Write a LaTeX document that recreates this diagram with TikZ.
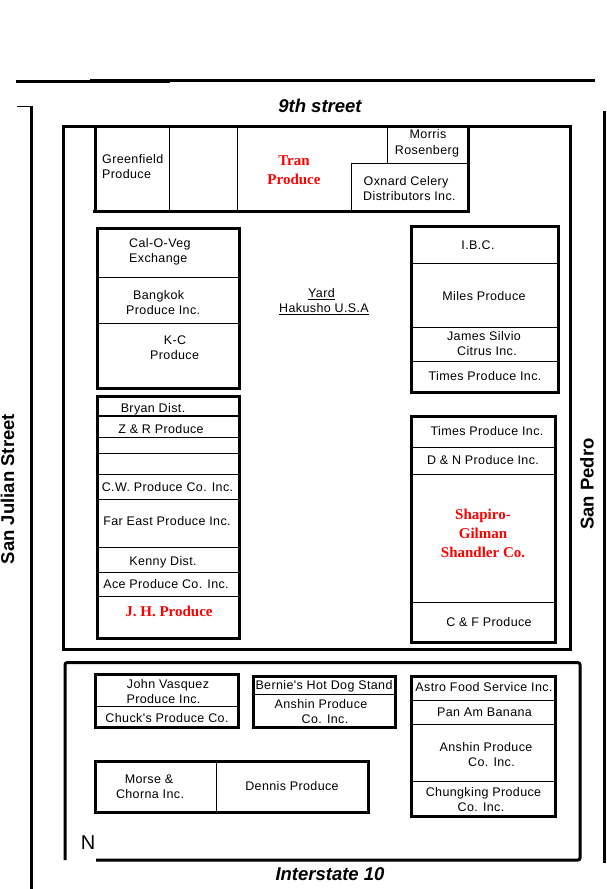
\documentclass[tikz,border=0pt]{standalone}
\usepackage{fontspec}
\setmainfont{Liberation Sans}
\newfontfamily\labfont[LetterSpace=3]{Liberation Sans}
\newfontfamily\redfont{Liberation Serif}
\tikzset{
  wall/.style={line width=3pt,line cap=butt,black},
  thin/.style={line width=1.1pt,black},
  lab/.style={inner sep=0pt,anchor=base,font=\labfont\fontsize{12.5}{14}\selectfont,text=black},
  labl/.style={lab,anchor=base west},
  redlab/.style={inner sep=0pt,anchor=base,font=\redfont\fontsize{15}{17}\selectfont\bfseries,text=red},
  road/.style={inner sep=0pt,anchor=base,font=\fontsize{18.5}{20}\selectfont\bfseries},
  roadit/.style={road,font=\fontsize{18.5}{20}\selectfont\bfseries\itshape},
}
\begin{document}
\begin{tikzpicture}[x=1pt,y=-1pt]
\useasboundingbox (0,0) rectangle (606,889);
% streets
\draw[wall] (16,81.5) -- (90,81.5);
\draw[line width=3.7pt] (90,80.9) -- (170,80.9);
\draw[wall] (170,80.5) -- (595,80.5);
\draw[line width=1.2pt] (17,106.5) -- (32,106.5);
\draw[wall] (31.5,106) -- (31.5,889);
\draw[wall] (604.7,111) -- (604.7,863);
% outer blocks
\draw[wall] (63.5,126.5) rectangle (570,649);
\draw[wall,rounded corners=2pt] (65,860) -- (65,662.7) -- (580,662.7) -- (580,860) -- (96,860);
% top row
\draw[wall] (95.5,126.5) -- (95.5,211) (93,211) -- (468,211) -- (468,126.5);
\draw[thin] (169.5,127) -- (169.5,210) (237.5,127) -- (237.5,210);
\draw[thin] (387.5,127) -- (387.5,164) (351.7,210) -- (351.7,163.5) -- (467,163.5);
% Cal-O-Veg block
\draw[wall] (97.5,228.7) rectangle (239.5,388);
\draw[thin] (96,277.3) -- (239,277.3) (97,323.3) -- (239,323.3);
% I.B.C. block
\draw[wall] (411.3,226.7) rectangle (558,392.3);
\draw[thin] (411,263.3) -- (557,263.3) (411,327.3) -- (557,327.3) (411,361.7) -- (557,361.7);
% Bryan block
\draw[wall] (97.5,396.7) rectangle (239.5,638.3);
\foreach \yy in {416,437.3,453.3,474.3,499.3,547.3,572.3,596.3}
  \draw[thin] (97,\yy) -- (239,\yy);
% Times / Shapiro block
\draw[wall] (411.3,416) rectangle (555.3,642.7);
\foreach \yy in {447.3,474.3,602.3}
  \draw[thin] (411,\yy) -- (555,\yy);
% John Vasquez block
\draw[wall] (95.3,674.3) rectangle (238,727.7);
\draw[thin] (95,706.7) -- (238,706.7);
% Bernie block
\draw[wall] (253.3,676.7) rectangle (395,727.7);
\draw[thin] (253,694.3) -- (395,694.3);
% Astro block
\draw[wall] (411.3,676.7) rectangle (555.3,816.7);
\foreach \yy in {700.3,724.3,781.3}
  \draw[thin] (411,\yy) -- (555,\yy);
% Morse block
\draw[wall] (95.3,761.7) rectangle (368.7,812.7);
\draw[thin] (216.3,762) -- (216.3,812);
% street names
\node[roadit] (ninth) at (320,112) {9th street};
\node[roadit] (i10) at (330,880.5) {Interstate 10};
\node[road,rotate=90] (julian) at (14,489) {San Julian Street};
\node[road,rotate=90] (pedro) at (593.5,484) {San Pedro};
\node[inner sep=0pt,anchor=base,font=\fontsize{20}{22}\selectfont] (north) at (88,849) {N};
% labels
\node[labl] (t1) at (102,163.5) {Greenfield};
\node[labl] (t2) at (102,178.5) {Produce};
\node[redlab] (t3) at (294,165) {Tran};
\node[redlab] (t4) at (294,184) {Produce};
\node[lab] (t5) at (428,138.5) {Morris};
\node[lab] (t6) at (427,154) {Rosenberg};
\node[labl] (t7) at (363.5,185.5) {Oxnard Celery};
\node[labl] (t8) at (363,200.5) {Distributors Inc.};
\node[labl] (t9) at (129,247) {Cal-O-Veg};
\node[labl] (t10) at (129,262) {Exchange};
\node[labl] (t11) at (133,299) {Bangkok};
\node[labl] (t12) at (126,314) {Produce Inc.};
\node[lab] (t13) at (175,344.5) {K-C};
\node[labl] (t14) at (150,359.5) {Produce};
\node[lab] (t15) at (321.5,297.5) {\underline{Yard}};
\node[lab] (t16) at (324,312.5) {\underline{Hakusho U.S.A}};
\node[lab] (t17) at (478,249.5) {I.B.C.};
\node[lab] (t18) at (484,300.5) {Miles Produce};
\node[lab] (t19) at (484,340.5) {James Silvio};
\node[lab] (t20) at (487,355.5) {Citrus Inc.};
\node[lab] (t21) at (485,380.5) {Times Produce Inc.};
\node[lab] (t22) at (153,412.5) {Bryan Dist.};
\node[lab] (t23) at (161,433.5) {Z \& R Produce};
\node[lab] (t24) at (167.5,491.5) {C.W. Produce Co. Inc.};
\node[lab] (t25) at (167,525.5) {Far East Produce Inc.};
\node[lab] (t26) at (163,565.5) {Kenny Dist.};
\node[lab] (t27) at (166,588.5) {Ace Produce Co. Inc.};
\node[redlab] (t28) at (169,616) {J. H. Produce};
\node[lab] (t29) at (487,435.5) {Times Produce Inc.};
\node[lab] (t30) at (483,464) {D \& N Produce Inc.};
\node[redlab] (t31) at (483,519) {Shapiro-};
\node[redlab] (t32) at (483,538) {Gilman};
\node[redlab] (t33) at (483,557) {Shandler Co.};
\node[lab] (t34) at (489,626.5) {C \& F Produce};
\node[lab] (t35) at (168,688) {John Vasquez};
\node[lab] (t36) at (163.5,703) {Produce Inc.};
\node[lab] (t37) at (167,722) {Chuck's Produce Co.};
\node[lab] (t38) at (324,689.5) {Bernie's Hot Dog Stand};
\node[lab] (t39) at (321,708.5) {Anshin Produce};
\node[lab] (t40) at (325,723.5) {Co. Inc.};
\node[lab] (t41) at (484,691.5) {Astro Food Service Inc.};
\node[lab] (t42) at (484.5,716) {Pan Am Banana};
\node[lab] (t43) at (486,751.5) {Anshin Produce};
\node[lab] (t44) at (491.5,766.5) {Co. Inc.};
\node[lab] (t45) at (483.5,796.5) {Chungking Produce};
\node[lab] (t46) at (481,811.5) {Co. Inc.};
\node[lab] (t47) at (149,783.5) {Morse \&};
\node[lab] (t48) at (150,798.5) {Chorna Inc.};
\node[lab] (t49) at (292,790.5) {Dennis Produce};
\end{tikzpicture}
\end{document}
